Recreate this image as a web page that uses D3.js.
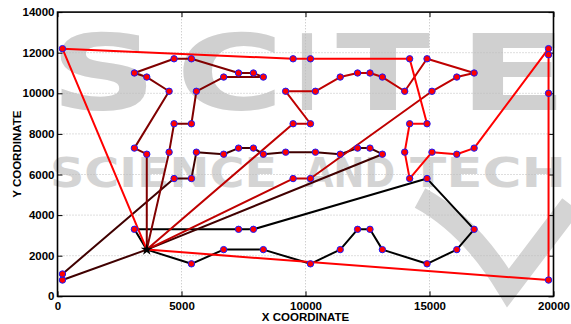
<!DOCTYPE html>
<html><head><meta charset="utf-8">
<script src="https://cdn.jsdelivr.net/npm/d3@7"></script>
<style>body{margin:0;background:#fff}svg{display:block}</style>
</head><body>
<script>
// ---- data ----
const depot = [3600, 2300];
const xTicks = [0, 5000, 10000, 15000, 20000];
const yTicks = [0, 2000, 4000, 6000, 8000, 10000, 12000, 14000];
const route1 = [[3100,3300],[7300,3300],[7900,3300],[14900,5800],[16800,3300],[16100,2300],[14900,1600],[13100,2300],[12600,3300],[12100,3300],[11400,2300],[10200,1600],[8300,2300],[6700,2300],[5400,1600]];
const route2 = [[200,800],[200,1100],[4700,5800],[5400,5800],[5600,7100],[6700,7000],[7300,7300],[7900,7300],[8300,7000],[9200,7100],[10400,7100],[11400,7000],[12100,7300],[12600,7300],[13100,7000]];
const route3 = [[3600,7000],[3100,7300],[4500,10100],[3600,10800],[3100,11000],[4700,11700],[5400,11700],[7300,11000],[7900,11000],[8300,10800],[6700,10800],[5600,10100],[5400,8500],[4700,8500],[4500,7100]];
const route4 = [[9500,8500],[10200,8500],[9200,10100],[10400,10100],[11400,10800],[12100,11000],[12600,11000],[13100,10800],[14000,10100],[14900,11700],[16800,11000],[16100,10800],[15100,10100],[10200,5800],[9500,5800]];
const route5 = [[200,12200],[9500,11700],[10200,11700],[14200,11700],[14900,8500],[14200,8500],[14000,7100],[14200,5800],[15100,7100],[16100,7000],[16800,7300],[19800,12200],[19800,11900],[19800,10000],[19800,800]];
const routes = [route1, route2, route3, route4, route5];
const routeColors = ["#000000", "#400000", "#800000", "#bf0000", "#ff0000"];
const xLabel = "X  COORDINATE", yLabel = "Y  COORDINATE";

const W = 571, H = 324;
const svg = d3.select("body").append("svg").attr("width", W).attr("height", H);

// ---- watermark ----
const wm = svg.append("g").attr("fill", "#d0d0d0").attr("font-family", "DejaVu Sans").attr("font-weight", "bold");
[["S",50,107],["C",176,108],["I",297,20],["T",336,94],["E",458,110]].forEach(([t,x,w]) => {
  wm.append("text").attr("x", x).attr("y", 110).attr("font-size", 105)
    .attr("textLength", w).attr("lengthAdjust", "spacingAndGlyphs").text(t);
});
[["SCIENCE",50,227],["AND",305,90],["TECH",410,156]].forEach(([t,x,w]) => {
  wm.append("text").attr("x", x).attr("y", 187).attr("font-size", 40)
    .attr("textLength", w).attr("lengthAdjust", "spacingAndGlyphs").attr("fill", "#d4d4d4").text(t);
});
svg.append("path").attr("d", "M420,198 Q470,225 508,288 L571,205")
  .attr("fill", "none").attr("stroke", "#d4d4d4").attr("stroke-width", 22);

// ---- scales ----
const x = d3.scaleLinear().domain([0, 20000]).range([57.5, 553.5]);
const y = d3.scaleLinear().domain([0, 14000]).range([296.3, 12.1]);
const [x0, x1] = x.range(), [y0, y1] = y.range();

// grid
const grid = svg.append("g").attr("stroke", "#bcbcbc").attr("stroke-width", 1).attr("stroke-dasharray", "1,2");
xTicks.slice(1, -1).forEach(v => grid.append("line").attr("x1", x(v)).attr("x2", x(v)).attr("y1", y0).attr("y2", y1));
yTicks.slice(1, -1).forEach(v => grid.append("line").attr("x1", x0).attr("x2", x1).attr("y1", y(v)).attr("y2", y(v)));

// axes
const fontAx = "'Liberation Sans', Arial, sans-serif";
const gx = svg.append("g").attr("transform", `translate(0,${y0})`)
  .call(d3.axisBottom(x).tickValues(xTicks).tickFormat(d3.format("d")).tickSize(-5).tickPadding(6));
const gy = svg.append("g").attr("transform", `translate(${x0},0)`)
  .call(d3.axisLeft(y).tickValues(yTicks).tickFormat(d3.format("d")).tickSize(-5).tickPadding(3));
const gx2 = svg.append("g").attr("transform", `translate(0,${y1})`)
  .call(d3.axisTop(x).tickValues(xTicks).tickFormat("").tickSize(-5));
const gy2 = svg.append("g").attr("transform", `translate(${x1},0)`)
  .call(d3.axisRight(y).tickValues(yTicks).tickFormat("").tickSize(-5));
[gx, gy, gx2, gy2].forEach(g => {
  g.select(".domain").remove();
  g.selectAll("text").attr("font-family", fontAx).attr("font-weight", "bold").attr("font-size", 11.5).attr("fill", "#000");
  g.selectAll("line").attr("stroke", "#000");
});
svg.append("rect").attr("x", x0).attr("y", y1).attr("width", x1 - x0).attr("height", y0 - y1)
  .attr("fill", "none").attr("stroke", "#000").attr("stroke-width", 1.6);

svg.append("text").attr("x", (x0 + x1) / 2).attr("y", 320.5).attr("text-anchor", "middle")
  .attr("font-family", fontAx).attr("font-weight", "bold").attr("font-size", 11.5).text(xLabel);
svg.append("text").attr("transform", `translate(20.5,${(y0 + y1) / 2}) rotate(-90)`).attr("text-anchor", "middle")
  .attr("font-family", fontAx).attr("font-weight", "bold").attr("font-size", 11.5).text(yLabel);

// routes
const line = d3.line().x(d => x(d[0])).y(d => y(d[1]));
routes.forEach((r, i) => {
  svg.append("path").datum([depot, ...r, depot]).attr("d", line)
    .attr("fill", "none").attr("stroke", routeColors[i]).attr("stroke-width", 2).attr("stroke-linejoin", "round");
});
routes.forEach(r => {
  svg.append("g").selectAll("circle").data(r).join("circle")
    .attr("cx", d => x(d[0])).attr("cy", d => y(d[1])).attr("r", 3.2)
    .attr("fill", "#ff0000").attr("stroke", "#1a1aff").attr("stroke-width", 1);
});
svg.append("path").attr("d", d3.symbol().type(d3.symbolStar).size(45)())
  .attr("transform", `translate(${x(depot[0])},${y(depot[1])})`).attr("fill", "#000");
</script>
</body></html>
